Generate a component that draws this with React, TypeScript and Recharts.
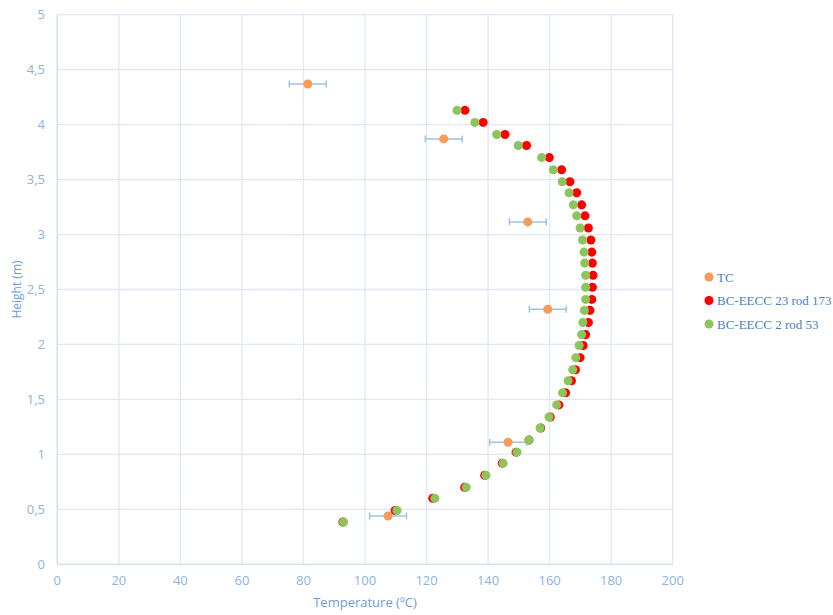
import { ScatterChart, Scatter, XAxis, YAxis, ZAxis, CartesianGrid, ErrorBar, Legend } from "recharts";

// heights (m) shared by both simulation series
const heights = [
  0.385, 0.49, 0.6, 0.7, 0.81, 0.92, 1.02, 1.13, 1.24, 1.34, 1.45, 1.56, 1.67, 1.77, 1.88, 1.99, 2.09, 2.2,
  2.31, 2.41, 2.52, 2.63, 2.74, 2.84, 2.95, 3.06, 3.17, 3.27, 3.38, 3.48, 3.59, 3.7, 3.81, 3.91, 4.02, 4.13,
];
const bc23Temps = [
  92.8, 109.8, 122.0, 132.4, 138.9, 144.6, 149.1, 153.3, 157.1, 160.2, 163.0, 165.2, 167.1, 168.4, 169.9, 170.9,
  171.7, 172.6, 173.1, 173.7, 173.9, 174.1, 173.9, 173.7, 173.4, 172.6, 171.5, 170.4, 168.8, 166.6, 163.9, 159.9,
  152.5, 145.5, 138.4, 132.5,
];
const bc2Temps = [
  93.0, 110.4, 122.7, 132.9, 139.3, 144.9, 149.4, 153.3, 156.9, 159.8, 162.3, 164.2, 166.0, 167.5, 168.5, 169.6,
  170.4, 170.8, 171.3, 171.7, 171.7, 171.7, 171.4, 171.2, 170.7, 169.9, 168.8, 167.7, 166.3, 164.1, 161.2, 157.4,
  149.8, 142.8, 135.7, 129.9,
];
const tcTemps = [81.4, 125.6, 152.9, 159.4, 146.5, 107.5];
const tcHeights = [4.37, 3.87, 3.115, 2.32, 1.11, 0.44];
const tcErr = [6, 6, 6, 6, 6, 6];

const xTicks = [0, 20, 40, 60, 80, 100, 120, 140, 160, 180, 200];
const yTicks = [0, 0.5, 1, 1.5, 2, 2.5, 3, 3.5, 4, 4.5, 5];

const tcData = tcTemps.map((t, i) => ({ x: t, y: tcHeights[i], err: tcErr[i] }));
const bc23Data = heights.map((h, i) => ({ x: bc23Temps[i], y: h }));
const bc2Data = heights.map((h, i) => ({ x: bc2Temps[i], y: h }));

const series = [
  { name: "TC", color: "#F79B58" },
  { name: "BC-EECC 23 rod 173", color: "#FF0000" },
  { name: "BC-EECC 2 rod 53", color: "#8DC55D" },
];

const tickStyle = { fill: "#8DB3E2", fontSize: 13, fontFamily: "Open Sans" };
const axisColor = "#D3E0F1";

function renderLegend() {
  return (
    <svg width={140} height={80}>
      {series.map((s, i) => (
        <g key={s.name}>
          <circle cx={9} cy={12 + i * 23.5} r={4.5} fill={s.color} />
          <text x={17} y={12 + i * 23.5 + 4.5} fontFamily="Liberation Serif" fontSize={13} fill="#4A7EC2">
            {s.name}
          </text>
        </g>
      ))}
    </svg>
  );
}

export default function App() {
  return (
    <div style={{ position: "absolute", left: 0, top: 0, width: 833, height: 615, background: "#fff" }}>
      <ScatterChart width={833} height={615} margin={{ top: 14.7, right: 160.3, bottom: 0, left: 0 }}>
        <CartesianGrid stroke="#DFE8F4" strokeWidth={1.3} />
        <XAxis
          type="number"
          dataKey="x"
          domain={[0, 200]}
          ticks={xTicks}
          height={50.7}
          tickLine={false}
          tickMargin={5.5}
          axisLine={{ stroke: axisColor, strokeWidth: 1.3 }}
          tick={tickStyle}
          label={{ value: "Temperature (ºC)", position: "insideBottom", offset: 8, fill: "#6C9DDA", fontSize: 13, fontFamily: "Open Sans" }}
        />
        <YAxis
          type="number"
          dataKey="y"
          domain={[0, 5]}
          ticks={yTicks}
          width={57.3}
          tickLine={false}
          tickMargin={6.3}
          axisLine={{ stroke: axisColor, strokeWidth: 1.3 }}
          tick={tickStyle}
          tickFormatter={(v: number) => String(v).replace(".", ",")}
          label={{
            value: "Height (m)",
            angle: -90,
            position: "insideLeft",
            offset: 17,
            fill: "#6C9DDA",
            fontSize: 12,
            fontFamily: "Open Sans",
            style: { textAnchor: "middle" },
          }}
        />
        <ZAxis range={[64, 64]} />
        <Legend
          layout="vertical"
          align="center"
          verticalAlign="middle"
          content={renderLegend}
          wrapperStyle={{ left: 700, top: 265, width: 140, height: 80 }}
        />
        <Scatter name="TC" data={tcData} fill={series[0].color} isAnimationActive={false}>
          <ErrorBar dataKey="err" direction="x" width={3.5} stroke="#9DC3E6" strokeWidth={1.5} />
        </Scatter>
        <Scatter name="BC-EECC 23 rod 173" data={bc23Data} fill={series[1].color} isAnimationActive={false} />
        <Scatter name="BC-EECC 2 rod 53" data={bc2Data} fill={series[2].color} isAnimationActive={false} />
      </ScatterChart>
    </div>
  );
}
